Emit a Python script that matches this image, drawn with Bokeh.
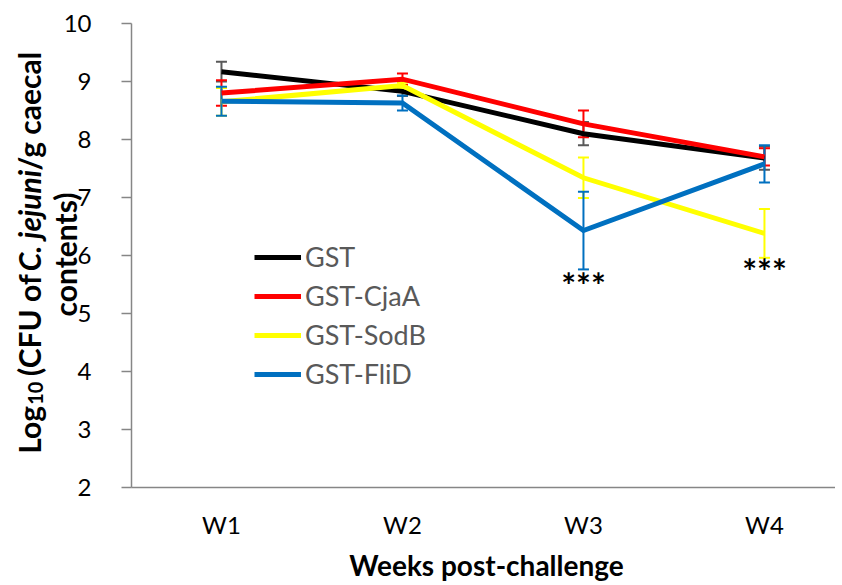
import math
from bokeh.plotting import figure
from bokeh.models import (ColumnDataSource, Whisker, TeeHead, Legend, LegendItem,
                          Label, FixedTicker, Range1d)
from bokeh.core.properties import value
from bokeh.embed import file_html
from bokeh.resources import INLINE

# ---------------- data ----------------
weeks = ["W1", "W2", "W3", "W4"]
series_names = ["GST", "GST-CjaA", "GST-SodB", "GST-FliD"]
gst = [9.17, 8.83, 8.10, 7.68]
gst_err = [0.17, 0.08, 0.20, 0.20]
cjaa = [8.80, 9.04, 8.27, 7.70]
cjaa_err = [0.22, 0.10, 0.23, 0.15]
sodb = [8.65, 8.93, 7.34, 6.38]
sodb_err = [0.24, 0.05, 0.35, 0.42]
flid = [8.66, 8.63, 6.43, 7.58]
flid_err = [0.25, 0.13, 0.67, 0.32]
sig_weeks = ["W3", "W4"]
sig_y = [5.55, 5.78]
sig_text = ["***", "***"]
y_ticks = [2, 3, 4, 5, 6, 7, 8, 9, 10]
y_min, y_max = 2, 10

line_colors = ["#000000", "#FF0000", "#FFFF00", "#0070C0"]
err_colors = ["#595959", "#FF0000", "#FFFF00", "#0070C0"]

FONT = "Lato"

xpos = [i + 1 for i in range(len(weeks))]
x_lo = 0.503

W, H = 835, 583
# The frame fills the whole canvas; axes are pinned inside it so that the
# rich-text axis title can be drawn with labels.
p = figure(width=W, height=H, output_backend="svg", toolbar_location=None,
           x_range=Range1d(-0.2208, 4.3925), y_range=Range1d(0.3448, 10.3966),
           min_border=0)
p.outline_line_color = None
p.grid.visible = False
p.background_fill_color = "white"
p.border_fill_color = "white"

# axes
p.xaxis.fixed_location = y_min
p.xaxis.bounds = (x_lo, 4.3925)
p.xaxis.ticker = FixedTicker(ticks=xpos)
p.xaxis.major_label_overrides = {x: w for x, w in zip(xpos, weeks)}
p.xaxis.major_tick_out = 0
p.xaxis.major_tick_in = 0
p.xaxis.minor_tick_out = 0
p.xaxis.minor_tick_in = 0
p.xaxis.axis_line_color = "#868686"
p.xaxis.axis_line_width = 1.5
p.xaxis.major_label_text_font = FONT
p.xaxis.major_label_text_font_size = "24px"
p.xaxis.major_label_text_color = "#000000"
p.xaxis.major_label_standoff = 23

p.yaxis.fixed_location = x_lo
p.yaxis.bounds = (y_min, y_max)
p.yaxis.ticker = FixedTicker(ticks=y_ticks)
p.yaxis.major_tick_out = 10
p.yaxis.major_tick_in = 0
p.yaxis.minor_tick_out = 0
p.yaxis.minor_tick_in = 0
p.yaxis.axis_line_color = "#868686"
p.yaxis.major_tick_line_color = "#868686"
p.yaxis.axis_line_width = 1.5
p.yaxis.major_tick_line_width = 1.5
p.yaxis.major_label_text_font = FONT
p.yaxis.major_label_text_font_size = "24px"
p.yaxis.major_label_text_color = "#000000"
p.yaxis.major_label_standoff = 30

# series
all_vals = [gst, cjaa, sodb, flid]
all_errs = [gst_err, cjaa_err, sodb_err, flid_err]
renderers = []
for name, vals, errs, lc, ec in zip(series_names, all_vals, all_errs, line_colors, err_colors):
    src = ColumnDataSource(dict(
        x=xpos, y=vals,
        upper=[v + e for v, e in zip(vals, errs)],
        lower=[v - e for v, e in zip(vals, errs)]))
    w = Whisker(base="x", upper="upper", lower="lower", source=src,
                line_color=ec, line_width=2, level="underlay",
                upper_head=TeeHead(size=11, line_color=ec, line_width=2),
                lower_head=TeeHead(size=11, line_color=ec, line_width=2))
    p.add_layout(w)
    r = p.line("x", "y", source=src, line_color=lc, line_width=5, line_join="miter")
    renderers.append(r)

# significance marks
sig_x = [xpos[weeks.index(w)] for w in sig_weeks]
p.text(x=sig_x, y=sig_y, text=sig_text, text_font=value(FONT),
       text_font_size="35px", text_font_style="bold", text_color="#000000",
       text_align="center", text_baseline="middle", y_offset=2)

# legend
legend = Legend(items=[LegendItem(label=n, renderers=[r]) for n, r in zip(series_names, renderers)],
                location=(254, 193), orientation="vertical",
                glyph_width=47, glyph_height=20, label_height=20, spacing=6,
                padding=0, margin=0, label_standoff=4,
                label_text_font=FONT, label_text_font_size="27px",
                label_text_color="#595959",
                border_line_alpha=0, background_fill_alpha=0)
p.add_layout(legend)

# x axis title
p.add_layout(Label(x=486, y=19, x_units="screen", y_units="screen",
                   text="Weeks post-challenge", text_font=FONT,
                   text_font_size="28px", text_font_style="bold",
                   text_align="center", text_baseline="middle",
                   text_color="#000000"))

# y axis title (rich text pieces, laid out bottom-to-top)
ang = math.pi / 2
fs, fs_sub = 30, 20
x1 = 28
pieces = [  # text, style, size, width in em, gap after (em)
    ("Log", "bold", fs, 1.63, 0.0),
    ("10", "bold", fs_sub, 1.16, 0.19 * fs / fs_sub),
    ("(CFU of", "bold", fs, 3.30, 0.19),
    ("C. jejuni", "bold italic", fs, 3.36, 0.0),
    ("/g caecal", "bold", fs, 3.84, 0.0),
]
total = sum((wem + gap) * sz for _, _, sz, wem, gap in pieces)
yy = 329 - total / 2
for txt, style, sz, wem, gap in pieces:
    xx = x1 + (7 if sz == fs_sub else 0)
    p.add_layout(Label(x=xx, y=yy, x_units="screen", y_units="screen", angle=ang,
                       text=txt, text_font=FONT, text_font_size=f"{sz}px",
                       text_font_style=style, text_align="left",
                       text_baseline="middle", text_color="#000000"))
    yy += (wem + gap) * sz
p.add_layout(Label(x=64, y=329, x_units="screen", y_units="screen", angle=ang,
                   text="contents)", text_font=FONT, text_font_size=f"{fs}px",
                   text_font_style="bold", text_align="center",
                   text_baseline="middle", text_color="#000000"))

open("out.html", "w").write(file_html(p, INLINE))
